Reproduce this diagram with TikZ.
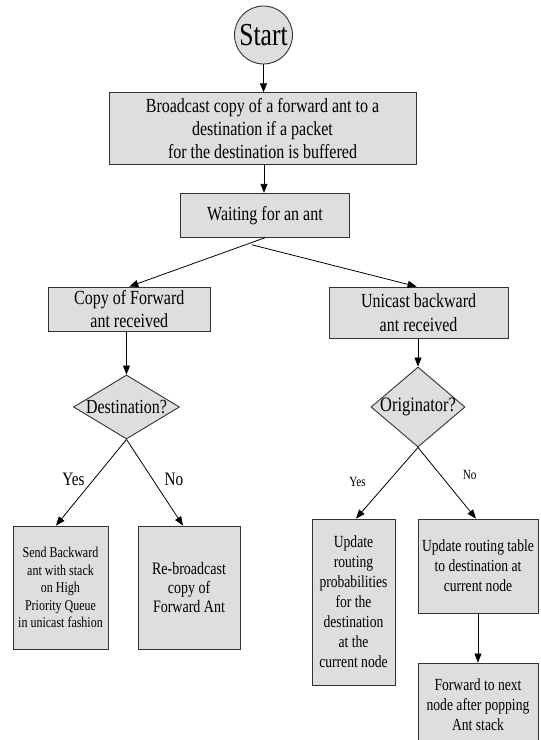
\documentclass[tikz,border=0pt]{standalone}
\usepackage{fontspec}
\setmainfont{Liberation Serif}[FakeStretch=0.8]
\usetikzlibrary{arrows.meta,shapes.geometric,calc}
\newcommand\fsz[2]{\fontsize{#1}{#2}\selectfont}
\tikzset{
  box/.style={draw=black!80, line width=0.9pt, fill=black!13, rectangle, inner sep=0pt, align=center, text=black},
  dia/.style={draw=black!80, line width=0.9pt, fill=black!13, diamond, inner sep=0pt},
  conn/.style={line width=0.8pt, draw=black, -{Triangle[length=9pt,width=7pt]}},
  lbl/.style={inner sep=0pt, text=black}
}
\begin{document}
\begin{tikzpicture}[x=1pt,y=-1pt]
\useasboundingbox (0,0) rectangle (541,740);
\fill[white] (0,0) rectangle (541,740);
% nodes
\node[box, circle, minimum size=58pt, font=\fsz{32}{35}] (start) at (263.5,35) {Start};
\node[box, minimum width=307pt, minimum height=72pt, font=\fsz{20}{23.3}] (b1) at (262.5,128.7)
  {Broadcast copy of a forward ant to a\\destination if a packet\\for the destination is buffered};
\node[box, minimum width=169pt, minimum height=44pt, font=\fsz{20}{23}] (b2) at (265,215.3) {Waiting for an ant};
\node[box, minimum width=162pt, minimum height=44pt, font=\fsz{20}{23}] (l1) at (129.3,309) {Copy of Forward\\ant received};
\node[box, minimum width=179pt, minimum height=51pt, font=\fsz{20}{23.5}] (r1) at (418.6,312.5) {Unicast backward\\ant received};
\node[dia, minimum width=106pt, minimum height=64pt] (d1) at (126.5,407) {};
\node[lbl, font=\fsz{20}{23}] (d1t) at (d1.center) {Destination?};
\node[dia, minimum width=94pt, minimum height=80pt] (d2) at (418,407) {};
\node[lbl, font=\fsz{20.5}{23}] (d2t) at (d2.center) {Originator?};
\node[box, minimum width=95pt, minimum height=123pt, font=\fsz{15}{17.4}] (bl1) at (60.5,587.5)
  {Send Backward\\ant with stack\\on High\\Priority Queue\\in unicast fashion};
\node[box, minimum width=102pt, minimum height=123pt, font=\fsz{17.5}{19}] (bl2) at (189,587.5)
  {Re-broadcast\\copy of\\Forward Ant};
\node[box, minimum width=83pt, minimum height=166pt, font=\fsz{17}{20}] (br1) at (353.5,602)
  {Update\\routing\\probabilities\\for the\\destination\\at the\\current node};
\node[box, minimum width=120pt, minimum height=94pt, font=\fsz{17}{20}] (br2) at (478,566)
  {Update routing table\\to destination at\\current node};
\node[box, minimum width=120pt, minimum height=84pt, font=\fsz{17}{20}] (bb) at (478,705)
  {Forward to next\\node after popping\\Ant stack};
% labels
\node[lbl, font=\fsz{19}{21}] (yes1) at (73.4,479) {Yes};
\node[lbl, font=\fsz{19}{21}] (no1) at (174,479) {No};
\node[lbl, font=\fsz{14}{16}] (yes2) at (357.6,482) {Yes};
\node[lbl, font=\fsz{14}{16}] (no2) at (469.7,475) {No};
% connectors
\coordinate (rs) at ($(b2.south)+(-13.3,7)$);
\draw[conn] (start.south) -- (start.south |- b1.north);
\draw[conn] ($(b2.north |- b1.south)+(-1,0)$) -- ($(b2.north)+(-1,0)$);
\draw[conn] (b2.south) -- (l1.north);
\draw[conn] (rs) -- ($(r1.north)+(-2,0)$);
\draw[conn] (d1.north |- l1.south) -- (d1.north);
\draw[conn] (d2.north |- r1.south) -- (d2.north);
\draw[conn] (d1.south) -- ($(bl1.north)+(-4.5,0)$);
\draw[conn] (d1.south) -- ($(bl2.north)+(-6,0)$);
\draw[conn] (d2.south) -- ($(br1.north)+(2.5,0)$);
\draw[conn] (d2.south) -- ($(br2.north)+(-2,0)$);
\draw[conn] (br2.south) -- (bb.north);
\end{tikzpicture}
\end{document}
